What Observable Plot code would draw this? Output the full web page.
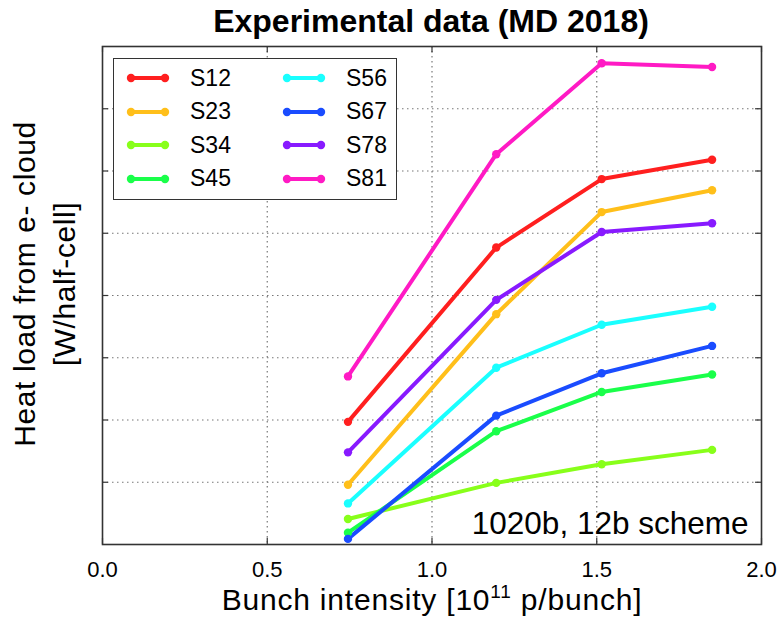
<!DOCTYPE html>
<html>
<head>
<meta charset="utf-8">
<script src="https://cdn.jsdelivr.net/npm/d3@7"></script>
<script src="https://cdn.jsdelivr.net/npm/@observablehq/plot@0.6"></script>
<style>
  body { margin: 0; background: #fff; font-family: "Liberation Sans", Arial, sans-serif; }
  #wrap { position: relative; width: 777px; height: 628px; }
  #title { position: absolute; left: 431px; top: 3px; transform: translateX(-50%); font-weight: bold; font-size: 32px; white-space: nowrap; color: #000; }
  #xlabel { position: absolute; left: 432px; top: 583px; transform: translateX(-50%); font-size: 30px; white-space: nowrap; letter-spacing: 0.8px; }
  #xlabel sup { font-size: 19px; vertical-align: 0; position: relative; top: -12px; }
  #ylabel { position: absolute; left: 45px; top: 284px; transform: translate(-50%, -50%) rotate(-90deg); font-size: 30px; line-height: 40px; text-align: center; white-space: nowrap; letter-spacing: 0.6px; }
  #legend { position: absolute; left: 113px; top: 58px; width: 282px; height: 140px; border: 1.5px solid #333; background: #fff; }
  .entry { position: absolute; display: flex; align-items: center; font-size: 23px; height: 30px; }
  .entry svg { margin-right: 20px; }
</style>
</head>
<body>
<div id="wrap">
  <div id="title">Experimental data (MD 2018)</div>
  <div id="chart"></div>
  <div id="legend"></div>
  <div id="xlabel">Bunch intensity [10<sup>11</sup> p/bunch]</div>
  <div id="ylabel">Heat load from e- cloud<br>[W/half-cell]</div>
</div>
<script>
const intensity = [0.745, 1.195, 1.515, 1.85];
const sectors = ["S12", "S23", "S34", "S45", "S56", "S67", "S78", "S81"];
const colors = ["#ff1f1f", "#ffbf1a", "#88ff1a", "#1aff4a", "#1affff", "#1a4cff", "#881aff", "#ff1ac4"];
const S12 = [1.97, 4.77, 5.87, 6.18];
const S23 = [0.96, 3.70, 5.34, 5.69];
const S34 = [0.41, 0.99, 1.29, 1.52];
const S45 = [0.19, 1.82, 2.45, 2.73];
const S56 = [0.66, 2.84, 3.53, 3.82];
const S67 = [0.09, 2.07, 2.75, 3.19];
const S78 = [1.48, 3.93, 5.02, 5.16];
const S81 = [2.70, 6.27, 7.73, 7.67];
const xTicks = [0, 0.5, 1.0, 1.5, 2.0];
const yTicks = [1, 2, 3, 4, 5, 6, 7];
const annotation = ["1020b, 12b scheme"];

const series = [S12, S23, S34, S45, S56, S67, S78, S81];
const data = sectors.flatMap((s, i) => intensity.map((xv, j) => ({sector: s, x: xv, y: series[i][j]})));

const grid = {stroke: "#777", strokeOpacity: 1, strokeWidth: 1.2, strokeDasharray: "1.5,3.5"};
const chart = Plot.plot({
  width: 777, height: 628,
  marginLeft: 102, marginRight: 16, marginTop: 46, marginBottom: 84,
  style: {fontFamily: "Liberation Sans, Arial, sans-serif", color: "#000"},
  x: {domain: [0, 2], axis: null},
  y: {domain: [0, 8], axis: null},
  color: {domain: sectors, range: colors},
  marks: [
    Plot.gridX([0.5, 1.0, 1.5], grid),
    Plot.gridY(yTicks, grid),
    Plot.ruleX(xTicks, {y1: 0, y2: 0.1, stroke: "#333", strokeWidth: 1.2}),
    Plot.ruleX(xTicks, {y1: 8, y2: 7.9, stroke: "#333", strokeWidth: 1.2}),
    Plot.ruleY(yTicks, {x1: 0, x2: 0.018, stroke: "#333", strokeWidth: 1.2}),
    Plot.ruleY(yTicks, {x1: 2, x2: 1.982, stroke: "#333", strokeWidth: 1.2}),
    Plot.axisX(xTicks, {tickSize: 0, tickPadding: 17, fontSize: 22, tickFormat: d => d.toFixed(1), label: null}),
    Plot.line(data, {x: "x", y: "y", z: "sector", stroke: "sector", strokeWidth: 4, strokeLinejoin: "round"}),
    Plot.dot(data, {x: "x", y: "y", fill: "sector", r: 4.2}),
    Plot.text(annotation, {frameAnchor: "bottom-right", dx: -13, dy: -11, fontSize: 31.5, textAnchor: "end", lineAnchor: "bottom", fill: "#000"}),
    Plot.frame({stroke: "#333", strokeWidth: 1.6})
  ]
});
document.getElementById("chart").appendChild(chart);

// legend
const legend = document.getElementById("legend");
sectors.forEach((s, i) => {
  const col = Math.floor(i / 4), row = i % 4;
  const e = document.createElement("div");
  e.className = "entry";
  e.style.left = (12 + col * 156) + "px";
  e.style.top = (4 + row * 33.5) + "px";
  e.innerHTML = `<svg width="44" height="12"><line x1="5" y1="6" x2="39" y2="6" stroke="${colors[i]}" stroke-width="4"/><circle cx="5" cy="6" r="4.2" fill="${colors[i]}"/><circle cx="39" cy="6" r="4.2" fill="${colors[i]}"/></svg><span>${s}</span>`;
  legend.appendChild(e);
});
</script>
</body>
</html>
